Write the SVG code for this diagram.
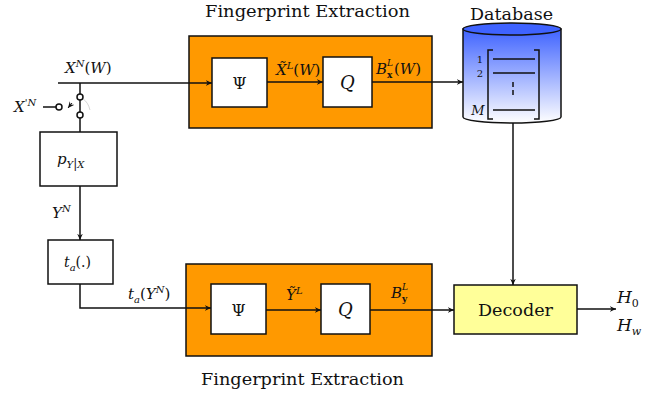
<svg xmlns="http://www.w3.org/2000/svg" width="667" height="397" viewBox="0 0 667 397" font-family="'DejaVu Serif','Liberation Serif',serif">
<style>
text{font-family:"DejaVu Serif","Liberation Serif",serif;fill:#111}
.m{font-style:italic}
.ln{stroke:#111;stroke-width:1.5;fill:none}
.box{fill:#fff;stroke:#111;stroke-width:1.5}
.fe{fill:#ff9900;stroke:#111;stroke-width:1.5}
.sup{font-size:10px}
</style>
<defs>
<marker id="ar" viewBox="0 0 10 10" refX="9" refY="5" markerWidth="7" markerHeight="7" orient="auto" markerUnits="userSpaceOnUse">
<path d="M0,1 L9,5 L0,9 L3,5 Z" fill="#111"/>
</marker>
<linearGradient id="db" x1="0" y1="0" x2="0" y2="1">
<stop offset="0" stop-color="#3f63ff"/>
<stop offset="1" stop-color="#ffffff"/>
</linearGradient>
</defs>

<g id="fe-top">
<rect class="fe" x="189" y="36" width="243" height="92"/>
<text x="205" y="17" font-size="16" textLength="205" lengthAdjust="spacingAndGlyphs">Fingerprint Extraction</text>
</g>
<g id="psi-top">
<rect class="box" x="212" y="58" width="55" height="49"/>
<text x="239.5" y="89" font-size="16" text-anchor="middle">Ψ</text>
</g>
<g id="q-top">
<rect class="box" x="323" y="57" width="49" height="50"/>
<text x="347.5" y="89" font-size="18" class="m" text-anchor="middle">Q</text>
</g>

<g id="fe-bot">
<rect class="fe" x="186" y="264" width="246" height="92"/>
<text x="201" y="385" font-size="16" textLength="203" lengthAdjust="spacingAndGlyphs">Fingerprint Extraction</text>
</g>
<g id="psi-bot">
<rect class="box" x="211" y="284" width="55" height="50"/>
<text x="238.5" y="316" font-size="16" text-anchor="middle">Ψ</text>
</g>
<g id="q-bot">
<rect class="box" x="321" y="284" width="49" height="50"/>
<text x="345.5" y="316" font-size="18" class="m" text-anchor="middle">Q</text>
</g>

<g id="database">
<path d="M463,29 L463,117 A49,6 0 0 0 561,117 L561,29 Z" fill="url(#db)" stroke="#111" stroke-width="1.5"/>
<ellipse cx="512" cy="29" rx="49" ry="6" fill="#3f63ff" stroke="#111" stroke-width="1.5"/>
<text x="470" y="20" font-size="16" textLength="83" lengthAdjust="spacingAndGlyphs">Database</text>
<path class="ln" d="M493,50 H488 V119 H493 M534,50 H539 V119 H534"/>
<path class="ln" d="M493,59 H535 M493,73 H535 M493,110 H535"/>
<path d="M513,82 V97" stroke="#111" stroke-width="1.5" stroke-dasharray="5,3"/>
<text x="480" y="63" font-size="10" text-anchor="middle">1</text>
<text x="480" y="77" font-size="10" text-anchor="middle">2</text>
<text x="478" y="115" font-size="13" class="m" text-anchor="middle">M</text>
</g>

<g id="pyx">
<rect class="box" x="40" y="132" width="77" height="54"/>
<text x="57" y="164" font-size="15" class="m">p<tspan class="sup" dy="4">Y</tspan><tspan font-style="normal" font-size="12">|</tspan><tspan class="sup">X</tspan></text>
</g>
<g id="ta">
<rect class="box" x="48" y="240" width="65" height="44"/>
<text x="64" y="267" font-size="14" class="m">t<tspan class="sup" dy="4">a</tspan><tspan font-style="normal" dy="-4">(.)</tspan></text>
</g>
<g id="decoder">
<rect x="454" y="285" width="123" height="49" fill="#ffff99" stroke="#111" stroke-width="1.5"/>
<text x="478" y="316" font-size="16" textLength="75" lengthAdjust="spacingAndGlyphs">Decoder</text>
</g>

<g id="connectors">
<path class="ln" d="M58,83 H212" marker-end="url(#ar)"/>
<path class="ln" d="M267,82 H323" marker-end="url(#ar)"/>
<path class="ln" d="M372,82 H463" marker-end="url(#ar)"/>
<path class="ln" d="M80,83 V94"/>
<circle cx="80" cy="97" r="3" fill="#fff" stroke="#111" stroke-width="1.5"/>
<circle cx="80" cy="115" r="3" fill="#fff" stroke="#111" stroke-width="1.5"/>
<path class="ln" d="M80,112 L80,100"/>
<path class="ln" d="M43,107 H56"/>
<circle cx="59" cy="107" r="3" fill="#fff" stroke="#111" stroke-width="1.5"/>
<path d="M72,103 L68,108" stroke="#111" stroke-width="1" marker-end="url(#ar)"/>
<path d="M83,99 Q88,102 90,110" stroke="#ccc" stroke-width="0.8" fill="none"/>
<path class="ln" d="M80,118 V132"/>
<path class="ln" d="M80,186 V240" marker-end="url(#ar)"/>
<path class="ln" d="M80,284 V308 H211" marker-end="url(#ar)"/>
<path class="ln" d="M266,310 H321" marker-end="url(#ar)"/>
<path class="ln" d="M370,310 H454" marker-end="url(#ar)"/>
<path class="ln" d="M513,123 V285" marker-end="url(#ar)"/>
<path class="ln" d="M577,309 H616" marker-end="url(#ar)"/>
</g>

<g id="labels">
<text x="65" y="73" font-size="15" class="m">X<tspan class="sup" dy="-6">N</tspan><tspan font-style="normal" dy="6">(</tspan>W<tspan font-style="normal">)</tspan></text>
<text x="14" y="112" font-size="15" class="m">X<tspan class="sup" font-style="normal" dy="-6">'</tspan><tspan class="sup" dy="0">N</tspan></text>
<text x="52" y="218" font-size="15" class="m">Y<tspan class="sup" dy="-6">N</tspan></text>
<text x="128" y="299" font-size="15" class="m">t<tspan class="sup" dy="4">a</tspan><tspan font-style="normal" dy="-4">(</tspan>Y<tspan class="sup" dy="-6">N</tspan><tspan font-style="normal" dy="6">)</tspan></text>
<text x="276" y="75" font-size="15" class="m">X̃<tspan class="sup" dy="-6">L</tspan><tspan font-style="normal" dy="6">(</tspan>W<tspan font-style="normal">)</tspan></text>
<text x="376" y="74" font-size="15" class="m">B</text>
<text x="387" y="66" font-size="9" class="m">L</text>
<text x="387" y="78" font-size="9" font-weight="bold">x</text>
<text x="394" y="74" font-size="15" class="m"><tspan font-style="normal">(</tspan>W<tspan font-style="normal">)</tspan></text>
<text x="286" y="300" font-size="15" class="m">Ỹ<tspan class="sup" dy="-6">L</tspan></text>
<text x="391" y="298" font-size="15" class="m">B</text>
<text x="402" y="290" font-size="9" class="m">L</text>
<text x="402" y="302" font-size="9" font-weight="bold">y</text>
<text x="617" y="303" font-size="17" class="m">H<tspan font-size="11" font-style="normal" dy="4">0</tspan></text>
<text x="617" y="331" font-size="17" class="m">H<tspan font-size="11" dy="4">w</tspan></text>
</g>
</svg>
